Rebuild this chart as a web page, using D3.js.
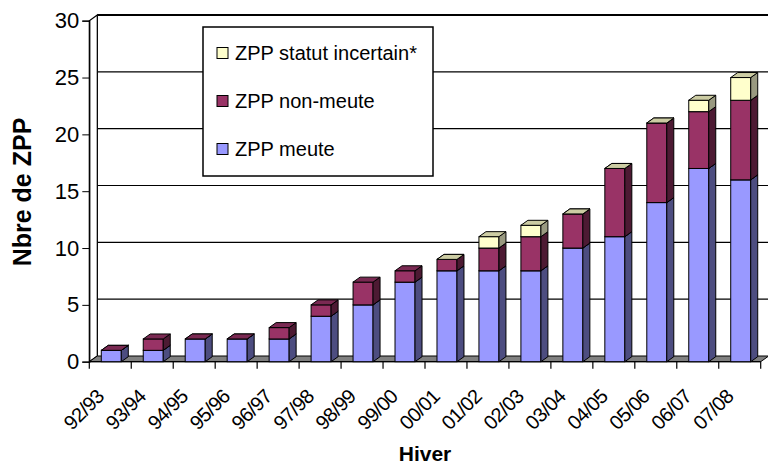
<!DOCTYPE html>
<html>
<head>
<meta charset="utf-8">
<script src="https://cdn.jsdelivr.net/npm/d3@7"></script>
<style>
  body { margin: 0; background: #fff; }
  svg { display: block; font-family: Arial, "Liberation Sans", sans-serif; }
</style>
</head>
<body>
<div id="chart"></div>
<script>
var categories = ['92/93','93/94','94/95','95/96','96/97','97/98','98/99','99/00',
                  '00/01','01/02','02/03','03/04','04/05','05/06','06/07','07/08'];
var meute      = [1, 1, 2, 2, 2, 4, 5, 7, 8, 8, 8, 10, 11, 14, 17, 16];
var nonMeute   = [0, 1, 0, 0, 1, 1, 2, 1, 1, 2, 3, 3, 6, 7, 5, 7];
// blank before 00/01, zero afterwards
var incertain  = [null, null, null, null, null, null, null, null, 0, 1, 1, 0, 0, 0, 1, 2];
var yTicks = [0, 5, 10, 15, 20, 25, 30];

var seriesNames = ['ZPP meute', 'ZPP non-meute', 'ZPP statut incertain*'];
var fronts = ['#9999ff', '#993366', '#ffffcc'];
var sides  = ['#4d4d80', '#4d1a33', '#999980'];
var tops   = ['#7a7acc', '#7a2952', '#cccca3'];

var width = 768, height = 466;
var dx = 8, dy = -5.7;       // depth of the floor / back wall
var bdx = 7, bdy = -5;       // depth of a bar
var barW = 20;

var svg = d3.select('#chart').append('svg').attr('width', width).attr('height', height);

var x = d3.scaleBand().domain(categories).range([89.3, 760.7]);
var y = d3.scaleLinear().domain([0, 30]).range([361.7, 20.7]);

// back wall
var x0 = x.range()[0], x1 = x.range()[1];
svg.append('rect')
   .attr('x', x0 + dx).attr('y', y(30) + dy)
   .attr('width', width - x0 - dx + 2).attr('height', y(0) - y(30))
   .attr('fill', '#fff');

// gridlines on back wall
svg.selectAll('line.grid')
   .data(yTicks.filter(function (d) { return d > 0; }))
   .enter().append('line')
   .attr('x1', x0 + dx).attr('x2', width)
   .attr('y1', function (d) { return y(d) + dy; })
   .attr('y2', function (d) { return y(d) + dy; })
   .attr('stroke', '#000').attr('stroke-width', function (d) { return d === 30 ? 2 : 1.1; });

// back wall left edge
svg.append('line')
   .attr('x1', x0 + dx).attr('x2', x0 + dx)
   .attr('y1', y(30) + dy).attr('y2', y(0) + dy)
   .attr('stroke', '#000').attr('stroke-width', 1.2);

// side wall
svg.append('path')
   .attr('d', 'M' + x0 + ',' + y(0) + 'L' + x0 + ',' + y(30) + 'L' + (x0 + dx) + ',' + (y(30) + dy) +
              'L' + (x0 + dx) + ',' + (y(0) + dy) + 'Z')
   .attr('fill', '#fff').attr('stroke', '#000').attr('stroke-width', 1.2);

// floor
svg.append('path')
   .attr('d', 'M' + x0 + ',' + y(0) + 'L' + (x0 + dx) + ',' + (y(0) + dy) + 'L' + (x1 + dx) + ',' + (y(0) + dy) +
              'L' + x1 + ',' + y(0) + 'Z')
   .attr('fill', '#808080').attr('stroke', '#000').attr('stroke-width', 1);

// y axis
var yAxis = d3.axisLeft(y).tickValues(yTicks).tickSize(7).tickPadding(3);
var gy = svg.append('g').attr('transform', 'translate(' + x0 + ',0)').call(yAxis);
gy.select('.domain').attr('stroke-width', 1.2);
gy.selectAll('text').attr('font-size', 22).attr('fill', '#000')
  .attr('font-family', 'Arial, "Liberation Sans", sans-serif');

// x axis ticks at band boundaries
var bounds = categories.map(function (c) { return x(c); }).concat([x1]);
svg.selectAll('line.xtick').data(bounds).enter().append('line')
   .attr('x1', function (d) { return d; }).attr('x2', function (d) { return d; })
   .attr('y1', y(0)).attr('y2', y(0) + 7)
   .attr('stroke', '#000').attr('stroke-width', 1.2);
svg.append('line').attr('x1', x0).attr('x2', x1).attr('y1', y(0)).attr('y2', y(0))
   .attr('stroke', '#000').attr('stroke-width', 1.2);

// x tick labels
svg.selectAll('text.xlab').data(categories).enter().append('text')
   .attr('transform', function (d) {
      return 'translate(' + (x(d) + x.bandwidth() / 2 - 5) + ',' + (y(0) + 36) + ') rotate(-45)';
   })
   .attr('text-anchor', 'end')
   .attr('font-size', 20)
   .attr('letter-spacing', -0.6)
   .text(function (d) { return d; });

// bars
var seriesData = [meute, nonMeute, incertain];
categories.forEach(function (c, i) {
   var cx = x(c) + x.bandwidth() / 2 + 1;
   var base = 0;
   var g = svg.append('g');
   seriesData.forEach(function (s, k) {
      var v = s[i];
      if (v === null) return;
      var yb = y(base), yt = y(base + v);
      var xl = cx - barW / 2, xr = cx + barW / 2;
      g.append('rect').attr('x', xl).attr('y', yt).attr('width', barW).attr('height', yb - yt)
       .attr('fill', fronts[k]).attr('stroke', '#000').attr('stroke-width', 1);
      g.append('path')
       .attr('d', 'M' + xr + ',' + yb + 'L' + xr + ',' + yt + 'L' + (xr + bdx) + ',' + (yt + bdy) +
                  'L' + (xr + bdx) + ',' + (yb + bdy) + 'Z')
       .attr('fill', sides[k]).attr('stroke', '#000').attr('stroke-width', 1);
      g.append('path')
       .attr('d', 'M' + xl + ',' + yt + 'L' + (xl + bdx) + ',' + (yt + bdy) + 'L' + (xr + bdx) + ',' + (yt + bdy) +
                  'L' + xr + ',' + yt + 'Z')
       .attr('fill', tops[k]).attr('stroke', '#000').attr('stroke-width', 1);
      base += v;
   });
});

// legend
var legend = svg.append('g');
legend.append('rect').attr('x', 203).attr('y', 27).attr('width', 230).attr('height', 149)
      .attr('fill', '#fff').attr('stroke', '#000').attr('stroke-width', 1.5);
var order = [2, 1, 0];
order.forEach(function (k, j) {
   var cy = 53 + j * 48;
   legend.append('rect').attr('x', 217).attr('y', cy - 5.5).attr('width', 11).attr('height', 11)
         .attr('fill', fronts[k]).attr('stroke', '#000').attr('stroke-width', 1);
   legend.append('text').attr('x', 235).attr('y', cy + 7).attr('font-size', 20)
         .text(seriesNames[k]);
});

// axis titles
svg.append('text').attr('transform', 'translate(31,192) rotate(-90)')
   .attr('text-anchor', 'middle').attr('font-weight', 'bold').attr('font-size', 25)
   .text('Nbre de ZPP');
svg.append('text').attr('x', 425).attr('y', 461)
   .attr('text-anchor', 'middle').attr('font-weight', 'bold').attr('font-size', 21)
   .text('Hiver');
</script>
</body>
</html>
